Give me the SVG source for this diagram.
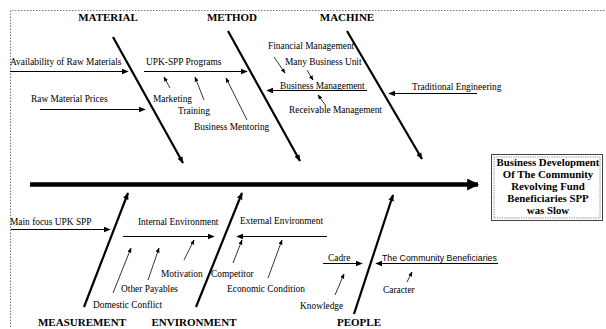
<svg xmlns="http://www.w3.org/2000/svg" width="606" height="329" viewBox="0 0 606 329">
<defs>
<marker id="ah" viewBox="0 0 10 10" refX="9" refY="5" markerWidth="7" markerHeight="7" markerUnits="userSpaceOnUse" orient="auto"><path d="M0,1 L10,5 L0,9 z" fill="#000"/></marker>
<marker id="ahs" viewBox="0 0 10 10" refX="9" refY="5" markerWidth="5" markerHeight="5" markerUnits="userSpaceOnUse" orient="auto"><path d="M0,1 L10,5 L0,9 z" fill="#000"/></marker>
<marker id="ahb" viewBox="0 0 10 10" refX="9" refY="5" markerWidth="12" markerHeight="12" markerUnits="userSpaceOnUse" orient="auto"><path d="M0,0 L10,5 L0,10 z" fill="#000"/></marker>
</defs>
<style>
text{font-family:"Liberation Serif","Times New Roman",serif;font-size:9.4px;fill:#000}
.t{font-weight:bold;font-size:11px;text-anchor:middle}
.s{font-family:"Liberation Sans",Arial,sans-serif;font-size:8.8px}
.e{font-weight:bold;font-size:10.8px;text-anchor:middle}
.bone{stroke:#000;stroke-width:2.2;fill:none;marker-end:url(#ah)}
.sub{stroke:#000;stroke-width:1;fill:none;marker-end:url(#ah)}
.sm{stroke:#000;stroke-width:0.8;fill:none;marker-end:url(#ahs)}
.brd{stroke:#777;stroke-width:1;stroke-dasharray:1.5 1.5;fill:none}
</style>
<rect width="606" height="329" fill="#fff"/>
<path class="brd" d="M10.5,327 L10.5,10.5 L605,10.5"/>

<g id="connectors">
<line x1="30" y1="184.5" x2="478" y2="184.5" stroke="#000" stroke-width="4.5" marker-end="url(#ahb)"/>
<line class="bone" x1="113" y1="37" x2="183" y2="163"/>
<line class="bone" x1="228" y1="31" x2="300" y2="161"/>
<line class="bone" x1="347" y1="31" x2="422" y2="159"/>
<line class="bone" x1="84" y1="307" x2="128" y2="193"/>
<line class="bone" x1="196" y1="307" x2="242" y2="193"/>
<line class="bone" x1="354" y1="314" x2="393" y2="195"/>

<line class="sub" x1="10" y1="71.5" x2="128" y2="71.5"/>
<line class="sub" x1="40" y1="109.5" x2="145" y2="109.5"/>
<line class="sub" x1="144" y1="71.5" x2="247" y2="71.5"/>
<line class="sm" x1="170" y1="88" x2="164" y2="77"/>
<line class="sm" x1="204" y1="100" x2="195" y2="77"/>
<line class="sm" x1="247" y1="120" x2="226" y2="78"/>
<line class="sm" x1="274" y1="57" x2="285" y2="73"/>
<line class="sm" x1="307" y1="70" x2="313" y2="80"/>
<line class="sub" x1="367" y1="90.5" x2="267" y2="90.5"/>
<line class="sm" x1="326" y1="106" x2="318" y2="95"/>
<line class="sub" x1="477" y1="93.5" x2="389" y2="93.5"/>

<line class="sub" x1="11" y1="229.5" x2="110" y2="229.5"/>
<line class="sub" x1="123" y1="236.5" x2="214" y2="236.5"/>
<line class="sm" x1="113" y1="293" x2="131" y2="248"/>
<line class="sm" x1="148" y1="280" x2="159" y2="248"/>
<line class="sm" x1="184" y1="260" x2="194" y2="240"/>
<line class="sub" x1="327" y1="236.5" x2="237" y2="236.5"/>
<line class="sm" x1="233" y1="263" x2="242" y2="240"/>
<line class="sm" x1="268" y1="278" x2="282" y2="240"/>
<line class="sub" x1="323" y1="263.5" x2="362" y2="263.5"/>
<line class="sm" x1="335" y1="295" x2="344" y2="274"/>
<line class="sub" x1="498" y1="263.5" x2="376" y2="263.5"/>
<line class="sm" x1="407" y1="282" x2="412" y2="272"/>
</g>

<g id="material"><text class="t" x="108" y="21">MATERIAL</text></g>
<g id="method"><text class="t" x="232" y="21">METHOD</text></g>
<g id="machine"><text class="t" x="347" y="21">MACHINE</text></g>
<g id="measurement"><text class="t" x="82" y="326">MEASUREMENT</text></g>
<g id="environment"><text class="t" x="194" y="326">ENVIRONMENT</text></g>
<g id="people"><text class="t" x="359" y="326">PEOPLE</text></g>

<g id="effect">
<rect x="491.5" y="154.5" width="111" height="66" fill="#fff" stroke="#444" stroke-width="1"/>
<rect x="494" y="157" width="106" height="61" fill="none" stroke="#666" stroke-width="0.8" stroke-dasharray="1.2 1.2"/>
<text class="e" x="548" y="166">Business Development</text>
<text class="e" x="548" y="178">Of The Community</text>
<text class="e" x="548" y="190">Revolving Fund</text>
<text class="e" x="548" y="202">Beneficiaries SPP</text>
<text class="e" x="548" y="214">was Slow</text>
</g>

<g id="causes-top">
<text x="10" y="65">Availability of Raw Materials</text>
<text x="31" y="102">Raw Material Prices</text>
<text x="146" y="65">UPK-SPP  Programs</text>
<text x="153" y="102">Marketing</text>
<text x="178" y="114">Training</text>
<text x="194" y="130">Business Mentoring</text>
<text x="268" y="49">Financial Management</text>
<text x="285" y="65">Many Business Unit</text>
<text x="280" y="89">Business Management</text>
<text x="289" y="113">Receivable Management</text>
<text x="412" y="90">Traditional Engineering</text>
</g>

<g id="causes-bottom">
<text x="10" y="225">Main focus UPK SPP</text>
<text x="138" y="225">Internal Environment</text>
<text x="93" y="308">Domestic Conflict</text>
<text x="121" y="292">Other Payables</text>
<text x="161" y="277">Motivation</text>
<text x="240" y="224">External Environment</text>
<text x="211" y="277">Competitor</text>
<text x="227" y="292">Economic Condition</text>
<text x="328" y="261">Cadre</text>
<text x="300" y="309">Knowledge</text>
<text class="s" x="382" y="261">The Community Beneficiaries</text>
<text x="383" y="293">Caracter</text>
</g>
</svg>
